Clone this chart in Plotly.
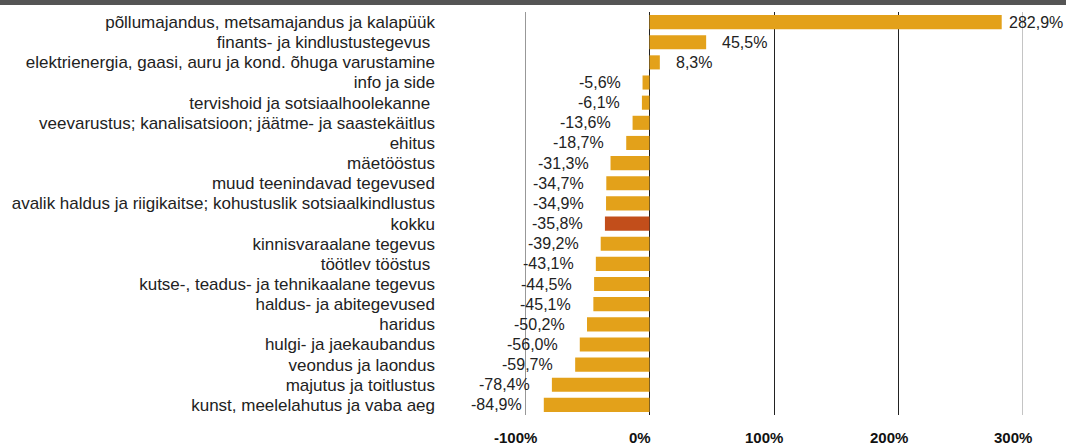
import plotly.graph_objects as go

categories = [
    "põllumajandus, metsamajandus ja kalapüük",
    "finants- ja kindlustustegevus ",
    "elektrienergia, gaasi, auru ja kond. õhuga varustamine",
    "info ja side",
    "tervishoid ja sotsiaalhoolekanne ",
    "veevarustus; kanalisatsioon; jäätme- ja saastekäitlus",
    "ehitus",
    "mäetööstus",
    "muud teenindavad tegevused",
    "avalik haldus ja riigikaitse; kohustuslik sotsiaalkindlustus",
    "kokku",
    "kinnisvaraalane tegevus",
    "töötlev tööstus ",
    "kutse-, teadus- ja tehnikaalane tegevus",
    "haldus- ja abitegevused",
    "haridus",
    "hulgi- ja jaekaubandus",
    "veondus ja laondus",
    "majutus ja toitlustus",
    "kunst, meelelahutus ja vaba aeg",
]
values = [282.9, 45.5, 8.3, -5.6, -6.1, -13.6, -18.7, -31.3, -34.7, -34.9,
          -35.8, -39.2, -43.1, -44.5, -45.1, -50.2, -56.0, -59.7, -78.4, -84.9]
highlight = "kokku"
tick_vals = [-100, 0, 100, 200, 300]
tick_text = ["-100%", "0%", "100%", "200%", "300%"]

BAR = "#E3A11A"
HL = "#C24E1B"
FONT = "Liberation Sans, Arial, Helvetica"
colors = [HL if c == highlight else BAR for c in categories]

fig = go.Figure(go.Bar(
    x=values, y=categories, orientation="h",
    marker=dict(color=colors, line=dict(width=0)),
    hoverinfo="skip",
))

for c, v in zip(categories, values):
    txt = f"{v:.1f}%".replace(".", ",")
    if v >= 0:
        fig.add_annotation(x=v, y=c, text=txt, showarrow=False, xanchor="left",
                           xshift=5 if v > 200 else 14,
                           font=dict(family=FONT, size=16, color="#222"))
    else:
        fig.add_annotation(x=v, y=c, text=txt, showarrow=False, xanchor="right",
                           xshift=-20,
                           font=dict(family=FONT, size=16, color="#222"))

# x tick labels (slightly left of their gridlines, as in the original)
for tv, tt in zip(tick_vals, tick_text):
    fig.add_annotation(x=tv, y=0, xref="x", yref="paper", text=f"<b>{tt}</b>",
                       showarrow=False, xanchor="center", yanchor="middle",
                       xshift=-10, yshift=-22,
                       font=dict(family=FONT, size=15, color="#111"))

# edge gridlines (plotly hides gridlines on the range boundaries)
fig.add_shape(type="line", xref="x", yref="paper", x0=tick_vals[0], x1=tick_vals[0],
              y0=0, y1=1, line=dict(color="#333", width=1), layer="below")
fig.add_shape(type="line", xref="x", yref="paper", x0=tick_vals[-1], x1=tick_vals[-1],
              y0=0, y1=1, line=dict(color="#888", width=1), layer="below")

# top dark strip
fig.add_shape(type="rect", xref="paper", yref="paper", x0=-2, x1=2,
              y0=1 + 7 / 403, y1=1 + 14 / 403, fillcolor="#555555",
              line=dict(width=0), layer="above")

fig.update_layout(
    width=1066, height=445,
    margin=dict(l=525, r=43, t=12, b=30, autoexpand=False),
    plot_bgcolor="white", paper_bgcolor="white",
    bargap=0.3,
    showlegend=False,
    font=dict(family=FONT, size=16, color="#222"),
    xaxis=dict(range=[-100, 300], tickvals=tick_vals, showticklabels=False,
               showgrid=True, gridcolor="#222", gridwidth=1,
               zeroline=True, zerolinecolor="#222", zerolinewidth=1,
               automargin=False, fixedrange=True),
    yaxis=dict(categoryorder="array", categoryarray=categories,
               range=[len(categories) - 0.5, -0.5], showgrid=False, zeroline=False,
               tickfont=dict(family=FONT, size=17, color="#222"),
               ticklabelstandoff=89, ticks="", automargin=False, fixedrange=True),
)

fig.write_html("out.html", config={"displayModeBar": False},
               post_script="document.body.style.margin='0';document.body.style.overflow='hidden';")
